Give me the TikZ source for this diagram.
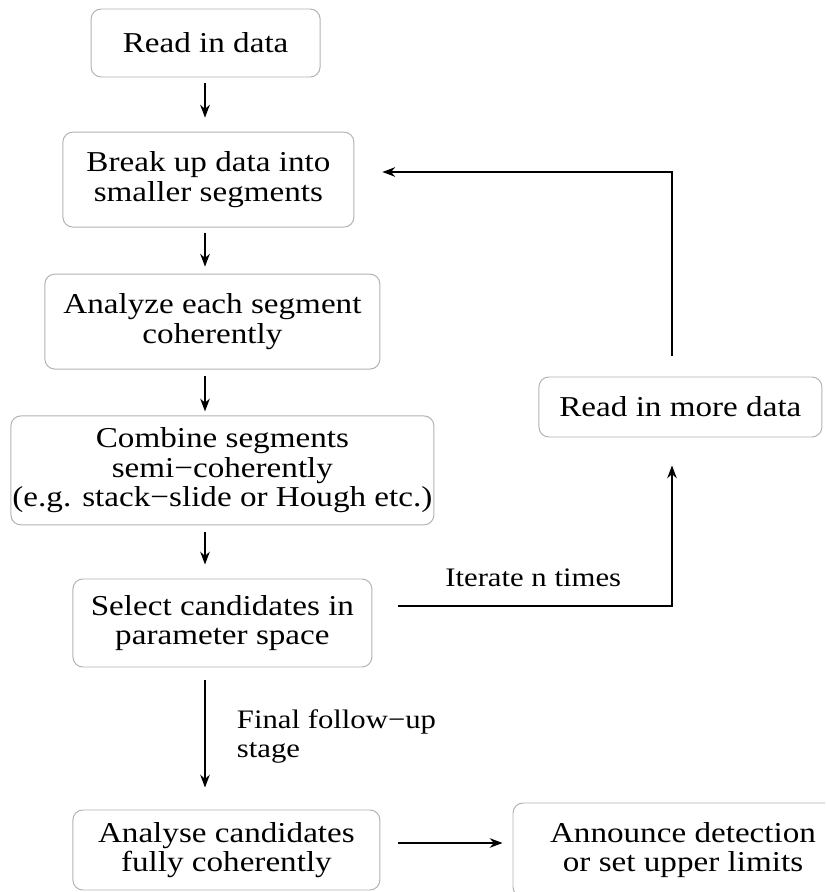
\documentclass[tikz,border=0pt]{standalone}
\usepackage{fontspec}
\setmainfont{Liberation Serif}[FakeStretch=1.15]
\usetikzlibrary{arrows.meta}

\tikzset{
  stepbox/.style = {draw = gray!60, line width = 0.7pt, rounded corners = 2.5mm, align = center, inner sep = 0pt},
  flow/.style = {line width = 1pt, -{Stealth[length = 3.2mm, width = 2.4mm]}},
  note/.style = {font = \fontsize{19}{20.5}\selectfont}
}

\begin{document}
\begin{tikzpicture}[font = \fontsize{20.5}{21}\selectfont]
        \useasboundingbox (0,0) rectangle (20.625,22.3);
        \clip (0,0) rectangle (20.625,22.3);

        \coordinate (spine) at (5.125,0);
        \coordinate (loop) at (16.8,0);

        \node [stepbox, minimum width = 5.725cm, minimum height = 1.7cm] (read) at (5.14,21.225) {Read in data};
        \node [stepbox, minimum width = 7.275cm, minimum height = 2.375cm] (breakup) at (5.21,17.81) {Break up data into\\smaller segments};
        \node [stepbox, minimum width = 8.375cm, minimum height = 2.375cm] (analyze) at (5.31,14.26) {Analyze each segment\\coherently};
        \node [stepbox, minimum width = 10.575cm, minimum height = 2.725cm] (combine) at (5.56,10.54) {Combine segments\\semi−coherently\\(e.g. stack−slide or Hough etc.)};
        \node [stepbox, minimum width = 7.475cm, minimum height = 2.2cm] (select) at (5.56,6.725) {Select candidates in\\parameter space};
        \node [stepbox, minimum width = 7.675cm, minimum height = 2cm] (analyse) at (5.66,1.05) {Analyse candidates\\fully coherently};
        \node [stepbox, minimum width = 8.5cm, minimum height = 2.35cm] (announce) at (17.075,1.05) {Announce detection\\or set upper limits};
        \node [stepbox, minimum width = 7.075cm, minimum height = 1.5cm] (more) at (17.01,12.125) {Read in more data};

        \draw [flow, shorten <= 1.5mm, shorten >= 3.5mm] (read.south -| spine) -- (breakup.north -| spine);
        \draw [flow, shorten <= 1.25mm, shorten >= 1.75mm] (breakup.south -| spine) -- (analyze.north -| spine);
        \draw [flow, shorten <= 1.5mm, shorten >= 1mm] (analyze.south -| spine) -- (combine.north -| spine);
        \draw [flow, shorten <= 1.75mm, shorten >= 3.5mm] (combine.south -| spine) -- (select.north -| spine);
        \draw [flow, shorten <= 3.25mm, shorten >= 5.5mm] (select.south -| spine) -- (analyse.north -| spine);
        \draw [flow, shorten <= 4.5mm, shorten >= 2.5mm] ([yshift = 1.75mm]analyse.east) -- ([yshift = 1.75mm]announce.west);

        % iteration loop
        \draw [flow, shorten <= 6.5mm, shorten >= 7mm] ([yshift = 4.25mm]select.east) -| (more.south -| loop);
        \draw [flow, shorten <= 5.25mm, shorten >= 7mm] (more.north -| loop) |- ([yshift = 1.9mm]breakup.east);

        \node [note, anchor = base] (iterate) at (13.33,7.625) {Iterate n times};
        \node [note, anchor = west, align = left] (final) at (5.8,3.89) {Final follow−up\\stage};
\end{tikzpicture}
\end{document}
